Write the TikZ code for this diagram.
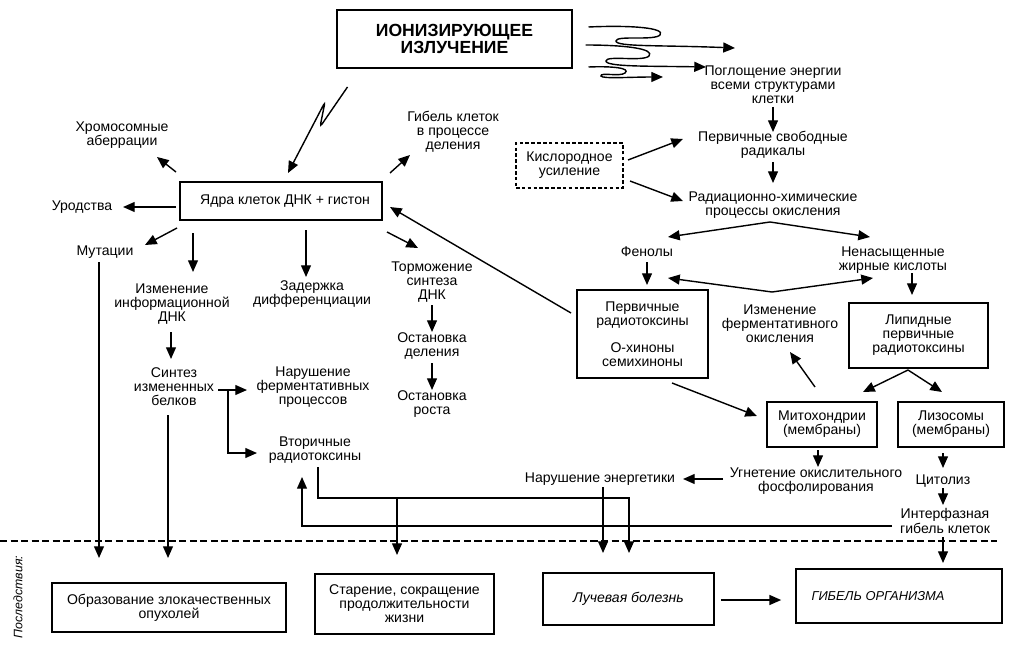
\documentclass[tikz,border=0pt]{standalone}
\usepackage{fontspec}
\setmainfont{Liberation Sans}
\usetikzlibrary{arrows.meta}
\newcommand\fs{\fontsize{12}{12}\selectfont}
\begin{document}
\begin{tikzpicture}[x=0.03cm,y=-0.03cm,
  every node/.style={font=\fs, inner sep=1pt, align=center},
  box/.style={draw, line width=1.4pt, inner sep=2pt},
  dbox/.style={box, line width=1.3pt, dash pattern=on 3pt off 2pt},
  arr/.style={line width=1.2pt, -{Triangle[length=10pt,width=8.5pt]}},
  darr/.style={line width=1.2pt, {Triangle[length=10pt,width=8.5pt]}-{Triangle[length=10pt,width=8.5pt]}},
  sep/.style={line width=1.2pt, dash pattern=on 6pt off 3pt}]
\useasboundingbox (0,0) rectangle (1030,649);

% nodes
\node[box, minimum width=7.05cm, minimum height=1.74cm, font=\bfseries\fontsize{15}{14.5}\selectfont] (ion) at (454.5,39) {ИОНИЗИРУЮЩЕЕ\\ИЗЛУЧЕНИЕ};
\node (pogl) at (773,85) {Поглощение энергии\\всеми структурами\\клетки};
\node (svobrad) at (773,145) {Первичные свободные\\радикалы};
\node (radkhim) at (773,205) {Радиационно-химические\\процессы окисления};
\node[dbox, minimum width=3.21cm, minimum height=1.35cm] (kisl) at (569.5,165.5) {Кислородное\\усиление};
\node (fenoly) at (647,252) {Фенолы};
\node (nenas) at (893,260) {Ненасыщенные\\жирные кислоты};
\node[box, minimum width=3.93cm, minimum height=2.64cm] (pervrad) at (642.5,334) {Первичные\\радиотоксины\\[11pt]О-хиноны\\семихиноны};
\node (izmferm) at (780,324) {Изменение\\ферментативного\\окисления};
\node[box, minimum width=4.17cm, minimum height=1.95cm] (lipid) at (918.5,335.5) {Липидные\\первичные\\радиотоксины};
\node[box, minimum width=3.3cm, minimum height=1.35cm] (mito) at (822,424.5) {Митохондрии\\(мембраны)};
\node[box, minimum width=3.18cm, minimum height=1.35cm] (lizo) at (951,424.5) {Лизосомы\\(мембраны)};
\node (ugnet) at (816,481) {Угнетение окислительного\\фосфолирования};
\node (narenerg) at (600,479) {Нарушение энергетики};
\node (citoliz) at (943,481) {Цитолиз};
\node (interf) at (945,521) {Интерфазная\\гибель клеток};
\node (khrom) at (122,135) {Хромосомные\\аберрации};
\node (gibdel) at (453,132) {Гибель клеток\\в процессе\\деления};
\node[box, minimum width=6.06cm, minimum height=1.14cm] (yadra) at (281,201) {\hspace*{0.24cm}Ядра клеток ДНК + гистон};
\node (urod) at (82,207) {Уродства};
\node (mut) at (105,252) {Мутации};
\node (izminf) at (172,304) {Изменение\\информационной\\ДНК};
\node (zader) at (312,294.5) {Задержка\\дифференциации};
\node (torm) at (432,282) {Торможение\\синтеза\\ДНК};
\node (ostdel) at (432,346) {Остановка\\деления};
\node (ostrost) at (432,404.5) {Остановка\\роста};
\node (sintez) at (174,387) {Синтез\\измененных\\белков};
\node (narferm) at (313,387) {Нарушение\\ферментативных\\процессов};
\node (vtor) at (315,450) {Вторичные\\радиотоксины};
\node[box, minimum width=7.02cm, minimum height=1.47cm] (b1) at (169,607.5) {Образование злокачественных\\опухолей};
\node[box, minimum width=5.37cm, minimum height=1.8cm] (b2) at (404.5,604) {Старение, сокращение\\продолжительности\\жизни};
\node[box, minimum width=5.13cm, minimum height=1.56cm] (b3) at (628.5,599) {\itshape Лучевая болезнь};
\node[box, minimum width=6.18cm, minimum height=1.62cm, font=\fontsize{11}{12}\selectfont\itshape] (b4) at (899,596) {ГИБЕЛЬ ОРГАНИЗМА\hspace*{1.26cm}};
\node[rotate=90, font=\fontsize{10.5}{12}\selectfont\itshape] (posl) at (18,597) {Последствия:};

% free ends
\coordinate (w1) at (735,48);
\coordinate (w2) at (706,67);
\coordinate (w3) at (663,77);

% separator
\draw[sep] (0,541) -- (997,541);

% radiation arrows
\draw[arr, rounded corners=3pt] ([shift={(-107,48)}]ion.center) -- (320,127) -- (325,102) -- ([shift={(7,-28)}]yadra.center);
\draw[arr] ([shift={(134,-12)}]ion.center) .. controls (632,25) and (666,28) .. (660,35) .. controls (654,41) and (616,35) .. (616,41) .. controls (616,47) and (660,45) .. (w1);
\draw[arr] ([shift={(131,6)}]ion.center) .. controls (627,45) and (655,49) .. (649,56) .. controls (643,62) and (606,55) .. (606,61) .. controls (606,67) and (650,66) .. (w2);
\draw[arr] ([shift={(134,28)}]ion.center) .. controls (612,66) and (631,68) .. (625,73) .. controls (620,77) and (600,72) .. (601,76) .. controls (602,79) and (630,77) .. (w3);

% right chain
\draw[arr] ([shift={(0,22)}]pogl.center) -- ([shift={(0,-13)}]svobrad.center);
\draw[arr] ([shift={(0,17)}]svobrad.center) -- ([shift={(0,-22)}]radkhim.center);
\draw[arr] ([shift={(58.5,-5.5)}]kisl.center) -- ([shift={(-90,-6)}]svobrad.center);
\draw[arr] ([shift={(60.5,15.5)}]kisl.center) -- ([shift={(-90,-4)}]radkhim.center);
\draw[darr] ([shift={(21,-15)}]fenoly.center) -- ([shift={(-3,17)}]radkhim.center) -- ([shift={(-23,-23)}]nenas.center);
\draw[arr] ([shift={(0,10)}]fenoly.center) -- ([shift={(4.5,-49)}]pervrad.center);
\draw[darr] ([shift={(25.5,-56)}]pervrad.center) -- ([shift={(-8,-32)}]izmferm.center) -- ([shift={(-20,18)}]nenas.center);
\draw[arr] ([shift={(19,13)}]nenas.center) -- ([shift={(-6.5,-40.5)}]lipid.center);
\draw[arr] ([shift={(-10.5,34.5)}]lipid.center) -- ([shift={(41,-32.5)}]mito.center);
\draw[arr] ([shift={(-10.5,34.5)}]lipid.center) -- ([shift={(-9,-32.5)}]lizo.center);
\draw[arr] ([shift={(-7,-37.5)}]mito.center) -- ([shift={(10,28)}]izmferm.center);
\draw[arr] ([shift={(29.5,49)}]pervrad.center) -- ([shift={(-65,-8.5)}]mito.center);
\draw[arr] ([shift={(-71.5,-21)}]pervrad.center) -- ([shift={(109,6)}]yadra.center);
\draw[arr] ([shift={(-4,25.5)}]mito.center) -- ([shift={(2,-14)}]ugnet.center);
\draw[arr] ([shift={(-93,-2)}]ugnet.center) -- ([shift={(83,0)}]narenerg.center);
\draw[arr] ([shift={(-8,28.5)}]lizo.center) -- ([shift={(0,-13)}]citoliz.center);
\draw[arr] ([shift={(0,7)}]citoliz.center) -- ([shift={(-2,-16)}]interf.center);
\draw[arr] ([shift={(-2,16)}]interf.center) -- ([shift={(44,-33)}]b4.center);
\draw[arr] ([shift={(-53,5)}]interf.center) -| ([shift={(-13,27)}]vtor.center);
\draw[arr] ([shift={(3,17)}]vtor.center) |- ([shift={(0.5,-101)}]b3.center) -- ([shift={(0.5,-46)}]b3.center);
\draw[arr] ([shift={(-7.5,-106)}]b2.center) -- ([shift={(-7.5,-49)}]b2.center);
\draw[arr] ([shift={(3,8)}]narenerg.center) -- ([shift={(-25.5,-46)}]b3.center);
\draw[arr] (b3.east) ++(6,1) -- ([shift={(-14,4)}]b4.west);

% left part
\draw[arr] ([shift={(-6,10)}]mut.center) -- ([shift={(-70,-49.5)}]b1.center);
\draw[arr] ([shift={(-6,28)}]sintez.center) -- ([shift={(-1,-49.5)}]b1.center);
\draw[arr] ([shift={(-105,-29)}]yadra.center) -- ([shift={(35,22)}]khrom.center);
\draw[arr] ([shift={(109,-28)}]yadra.center) -- ([shift={(-43,23)}]gibdel.center);
\draw[arr] ([shift={(-105,6)}]yadra.center) -- ([shift={(41,0)}]urod.center);
\draw[arr] ([shift={(-104,27)}]yadra.center) -- ([shift={(40,-7)}]mut.center);
\draw[arr] ([shift={(-88,32)}]yadra.center) -- ([shift={(21,-32)}]izminf.center);
\draw[arr] ([shift={(25,29)}]yadra.center) -- ([shift={(-6,-17.5)}]zader.center);
\draw[arr] ([shift={(106,31)}]yadra.center) -- ([shift={(-14,-34)}]torm.center);
\draw[arr] ([shift={(0,23)}]torm.center) -- ([shift={(0,-14)}]ostdel.center);
\draw[arr] ([shift={(0,17)}]ostdel.center) -- ([shift={(0,-14.5)}]ostrost.center);
\draw[arr] ([shift={(-1,28)}]izminf.center) -- ([shift={(-3,-28)}]sintez.center);
\draw[arr] ([shift={(44,3)}]sintez.center) -- ([shift={(-66,3)}]narferm.center);
\draw[arr] ([shift={(54,3)}]sintez.center) |- ([shift={(-58,3)}]vtor.center);
\end{tikzpicture}
\end{document}
